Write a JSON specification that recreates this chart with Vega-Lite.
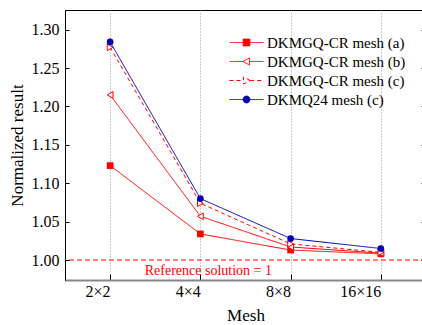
{
  "$schema": "https://vega.github.io/schema/vega-lite/v6.json",
  "width": 361,
  "height": 270,
  "autosize": "none",
  "padding": {"left": 65, "top": 10, "right": 0, "bottom": 45},
  "background": "white",
  "config": {
    "font": "Liberation Serif",
    "view": {"stroke": "black", "strokeWidth": 1},
    "axis": {
      "labelFont": "Liberation Serif",
      "titleFont": "Liberation Serif",
      "labelColor": "black",
      "titleColor": "black",
      "titleFontWeight": "normal",
      "labelFontSize": 16,
      "titleFontSize": 17
    }
  },
  "data": {
    "values": [
      {"mesh": "2×2", "series": "DKMGQ-CR mesh (a)", "value": 1.123},
      {"mesh": "4×4", "series": "DKMGQ-CR mesh (a)", "value": 1.034},
      {"mesh": "8×8", "series": "DKMGQ-CR mesh (a)", "value": 1.013},
      {"mesh": "16×16", "series": "DKMGQ-CR mesh (a)", "value": 1.008},
      {"mesh": "2×2", "series": "DKMGQ-CR mesh (b)", "value": 1.215},
      {"mesh": "4×4", "series": "DKMGQ-CR mesh (b)", "value": 1.057},
      {"mesh": "8×8", "series": "DKMGQ-CR mesh (b)", "value": 1.017},
      {"mesh": "16×16", "series": "DKMGQ-CR mesh (b)", "value": 1.009},
      {"mesh": "2×2", "series": "DKMGQ-CR mesh (c)", "value": 1.277},
      {"mesh": "4×4", "series": "DKMGQ-CR mesh (c)", "value": 1.074},
      {"mesh": "8×8", "series": "DKMGQ-CR mesh (c)", "value": 1.021},
      {"mesh": "16×16", "series": "DKMGQ-CR mesh (c)", "value": 1.010},
      {"mesh": "2×2", "series": "DKMQ24 mesh (c)", "value": 1.284},
      {"mesh": "4×4", "series": "DKMQ24 mesh (c)", "value": 1.080},
      {"mesh": "8×8", "series": "DKMQ24 mesh (c)", "value": 1.028},
      {"mesh": "16×16", "series": "DKMQ24 mesh (c)", "value": 1.015}
    ]
  },
  "resolve": {"axis": {"y": "independent"}},
  "layer": [
    {
      "data": {"values": [{"mesh": "4×4", "ref": 1, "label": "Reference solution = 1"}]},
      "mark": {"type": "rule", "color": "#ff0000", "strokeDash": [5, 3], "strokeWidth": 1},
      "encoding": {
        "y": {"field": "ref", "type": "quantitative", "scale": {"domain": [0.974, 1.3256], "nice": false, "zero": false}, "axis": null}
      }
    },
    {
      "data": {"values": [{"mesh": "4×4", "ref": 1, "label": "Reference solution = 1"}]},
      "mark": {"type": "text", "color": "#ff0000", "font": "Liberation Serif", "fontSize": 14, "fontWeight": "normal", "dy": 11, "dx": 8},
      "encoding": {
        "x": {"field": "mesh", "type": "ordinal"},
        "y": {"field": "ref", "type": "quantitative", "axis": null},
        "text": {"field": "label"}
      }
    },
    {
      "mark": {"type": "line", "strokeWidth": 1},
      "encoding": {
        "x": {
          "field": "mesh", "type": "ordinal",
          "sort": ["2×2", "4×4", "8×8", "16×16"],
          "scale": {"type": "point", "padding": 0.5, "domain": ["2×2", "4×4", "8×8", "16×16"]},
          "axis": {
            "title": "Mesh", "labelAngle": 0, "grid": true, "gridDash": [1, 2], "gridColor": "#999999",
            "tickSize": -6, "tickColor": "black", "domainColor": "#888888", "domainWidth": 2,
            "labelFont": "Liberation Serif", "labelFontSize": 16,
            "labelPadding": 17, "titlePadding": 8
          }
        },
        "y": {
          "field": "value", "type": "quantitative",
          "scale": {"domain": [0.974, 1.3256], "nice": false, "zero": false},
          "axis": {
            "title": "Normalized result", "values": [1.0, 1.05, 1.1, 1.15, 1.2, 1.25, 1.3], "format": ".2f",
            "labelFont": "Liberation Serif", "labelFontSize": 16,
            "grid": false, "tickSize": -4, "tickColor": "black", "domainColor": "black", "labelPadding": 10, "titlePadding": 5
          }
        },
        "color": {
          "field": "series", "type": "nominal",
          "scale": {"domain": ["DKMGQ-CR mesh (a)", "DKMGQ-CR mesh (b)", "DKMGQ-CR mesh (c)", "DKMQ24 mesh (c)"], "range": ["#ff0000", "#ff0000", "#ff0000", "#0000b4"]},
          "legend": {
            "orient": "none", "legendX": 164, "legendY": 23, "title": null, "padding": 0,
            "symbolSize": 1156, "symbolOffset": 0, "labelOffset": 3, "symbolStrokeWidth": 1,
            "clipHeight": 19, "rowPadding": 0,
            "labelFont": "Liberation Serif", "labelFontSize": 15, "labelColor": "black",
            "encode": {
              "symbols": {
                "update": {
                  "size": {"value": 1156},
                  "shape": {"signal": "datum.value === 'DKMGQ-CR mesh (a)' ? 'M-1,0H1M-0.2,-0.2H0.2V0.2H-0.2Z' : datum.value === 'DKMGQ-CR mesh (b)' ? 'M-1,0H-0.22M0.18,0H1M-0.22,0L0.18,-0.21L0.18,0.21Z' : datum.value === 'DKMGQ-CR mesh (c)' ? 'M-1,0H-0.18M0.22,0H1M0.22,0L-0.18,-0.21L-0.18,0.21Z' : 'M-1,0H1M-0.2,0A0.2,0.2,0,1,0,0.2,0A0.2,0.2,0,1,0,-0.2,0Z'"},
                  "fill": {"signal": "datum.value === 'DKMGQ-CR mesh (a)' ? '#ff0000' : datum.value === 'DKMQ24 mesh (c)' ? '#0000b4' : 'white'"},
                  "strokeDash": {"signal": "datum.value === 'DKMGQ-CR mesh (c)' ? [3, 2] : [1, 0]"}
                }
              }
            }
          }
        },
        "strokeDash": {
          "field": "series", "type": "nominal",
          "scale": {"domain": ["DKMGQ-CR mesh (a)", "DKMGQ-CR mesh (b)", "DKMGQ-CR mesh (c)", "DKMQ24 mesh (c)"], "range": [[1, 0], [1, 0], [4, 3], [1, 0]]},
          "legend": null
        }
      }
    },
    {
      "transform": [{"filter": "datum.series === 'DKMGQ-CR mesh (a)'"}],
      "mark": {"type": "point", "shape": "square", "filled": true, "size": 45, "opacity": 1, "color": "#ff0000"},
      "encoding": {
        "x": {"field": "mesh", "type": "ordinal", "sort": ["2×2", "4×4", "8×8", "16×16"]},
        "y": {
          "field": "value", "type": "quantitative",
          "axis": {"orient": "right", "title": null, "labels": false, "values": [1.0, 1.05, 1.1, 1.15, 1.2, 1.25, 1.3], "tickSize": -5, "tickColor": "black", "domainColor": "black", "grid": false}
        }
      }
    },
    {
      "transform": [{"filter": "datum.series === 'DKMGQ-CR mesh (b)'"}],
      "mark": {"type": "point", "shape": "triangle-left", "filled": false, "fill": "white", "size": 45, "opacity": 1, "strokeWidth": 1, "color": "#ff0000"},
      "encoding": {
        "x": {"field": "mesh", "type": "ordinal", "sort": ["2×2", "4×4", "8×8", "16×16"]},
        "y": {"field": "value", "type": "quantitative", "axis": null}
      }
    },
    {
      "transform": [{"filter": "datum.series === 'DKMGQ-CR mesh (c)'"}],
      "mark": {"type": "point", "shape": "triangle-right", "filled": false, "fill": "white", "size": 45, "opacity": 1, "strokeWidth": 1, "color": "#ff0000"},
      "encoding": {
        "x": {"field": "mesh", "type": "ordinal", "sort": ["2×2", "4×4", "8×8", "16×16"]},
        "y": {"field": "value", "type": "quantitative", "axis": null}
      }
    },
    {
      "transform": [{"filter": "datum.series === 'DKMQ24 mesh (c)'"}],
      "mark": {"type": "point", "shape": "circle", "filled": true, "size": 45, "opacity": 1, "color": "#0000b4"},
      "encoding": {
        "x": {"field": "mesh", "type": "ordinal", "sort": ["2×2", "4×4", "8×8", "16×16"]},
        "y": {"field": "value", "type": "quantitative", "axis": null}
      }
    }
  ]
}
